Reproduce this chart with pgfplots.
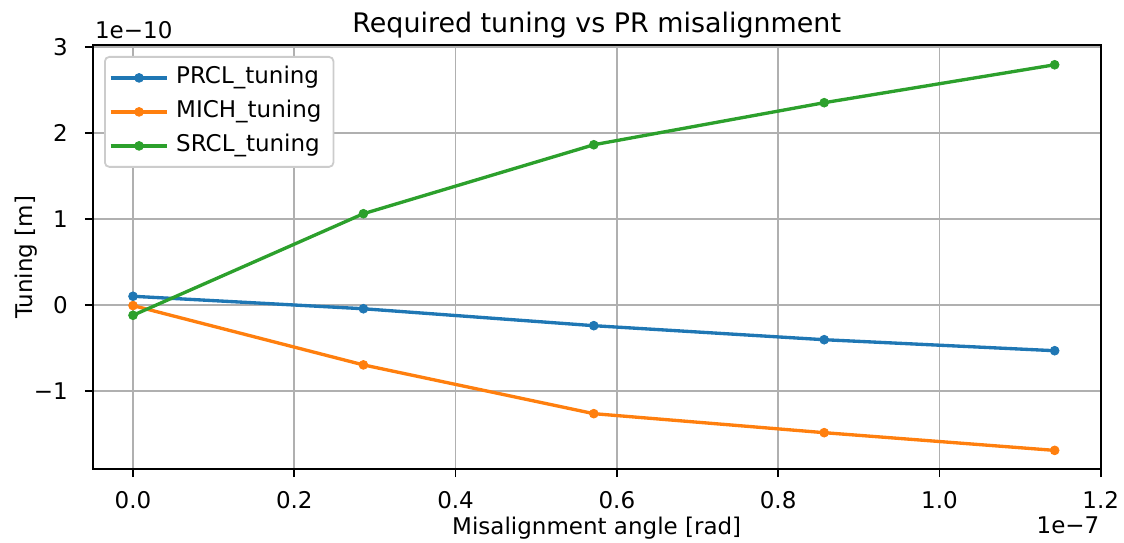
\documentclass[border=0pt]{standalone}
\usepackage{pgfplots}
\pgfplotsset{compat=1.18}
\usepackage{fontspec}
\setmainfont{DejaVu Sans}
\definecolor{c1}{HTML}{1F77B4}
\definecolor{c2}{HTML}{FF7F0E}
\definecolor{c3}{HTML}{2CA02C}
\begin{document}
\fontsize{11.5}{13.8}\selectfont
\begin{tikzpicture}
\begin{axis}[
  scale only axis, width=504pt, height=212.15pt,
  at={(0,0)}, anchor=south west,
  xmin=-0.05, xmax=1.2, ymin=-1.914, ymax=3.02,
  xtick={0,0.2,0.4,0.6,0.8,1.0,1.2},
  xticklabels={0.0,0.2,0.4,0.6,0.8,1.0,1.2},
  ytick={-1,0,1,2,3},
  yticklabels={−1,0,1,2,3},
  grid=major, grid style={color=black!31, line width=0.9pt},
  axis line style={line width=0.9pt},
  tick style={black, line width=0.9pt},
  tick align=outside, major tick length=3.9pt, tick pos=left,
  xticklabel style={anchor=north, inner sep=0pt, yshift=-7.2pt},
  yticklabel style={anchor=east, inner sep=0pt, xshift=-8.35pt},
  every axis plot/.append style={line width=1.67pt},
  legend style={at={(0,1)}, anchor=north west, xshift=5.65pt, yshift=-5.5pt,
    draw=black!20, line width=0.9pt, rounded corners=2.2pt, fill=white,
    inner xsep=2pt, inner ysep=2pt, row sep=0pt,
    nodes={inner xsep=4pt, inner ysep=3pt, text height=8.3pt, text depth=2.7pt}},
  legend cell align=left,
  legend image code/.code={
    \path (-2pt,0) -- (26pt,0);
    \draw[#1] (0pt,0) -- (24.5pt,0);
    \draw[#1, mark repeat=1] plot coordinates {(12.25pt,0)};
  },
]
\addplot[color=c1, mark=*, mark size=2.2pt, mark options={solid, fill=c1, draw=c1, line width=0.4pt}]
  coordinates {(0,0.098) (0.2857,-0.047) (0.5714,-0.244) (0.8571,-0.407) (1.1429,-0.535)};
\addlegendentry{PRCL\_tuning}
\addplot[color=c2, mark=*, mark size=2.2pt, mark options={solid, fill=c2, draw=c2, line width=0.4pt}]
  coordinates {(0,-0.01) (0.2857,-0.70) (0.5714,-1.267) (0.8571,-1.488) (1.1429,-1.694)};
\addlegendentry{MICH\_tuning}
\addplot[color=c3, mark=*, mark size=2.2pt, mark options={solid, fill=c3, draw=c3, line width=0.4pt}]
  coordinates {(0,-0.123) (0.2857,1.058) (0.5714,1.860) (0.8571,2.349) (1.1429,2.79)};
\addlegendentry{SRCL\_tuning}
\end{axis}
\node[anchor=base, font=\fontsize{13.45}{16}\selectfont] at (252pt,218.3pt) {Required tuning vs PR misalignment};
\node[anchor=base, inner sep=0pt] at (252pt,-32.5pt) {Misalignment angle [rad]};
\node[anchor=base, rotate=90, inner sep=0pt] at (-30.3pt,106pt) {Tuning [m]};
\node[anchor=base west, inner sep=0pt] at (1pt,215.15pt) {1e−10};
\node[anchor=base east, inner sep=0pt] at (503.5pt,-32pt) {1e−7};
\pgfresetboundingbox
\path[use as bounding box] (-46.35pt,-36.35pt) rectangle (515.65pt,234.65pt);
\end{tikzpicture}
\end{document}
